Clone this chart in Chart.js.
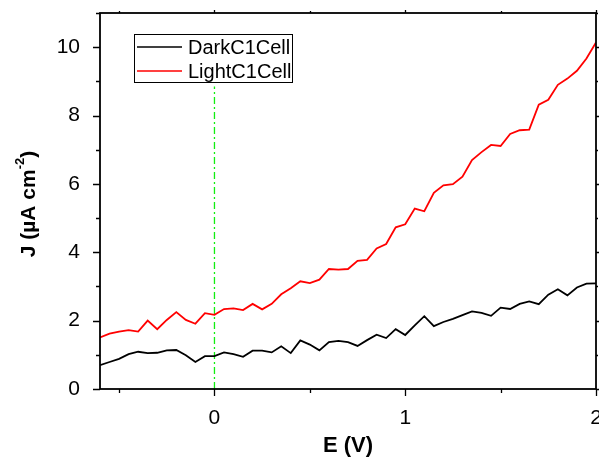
<!DOCTYPE html>
<html>
<head>
<meta charset="utf-8">
<script src="https://cdn.jsdelivr.net/npm/chart.js@4"></script>
<style>
  html, body { margin: 0; padding: 0; background: #fff; }
  #wrap { width: 599px; height: 459px; }
</style>
</head>
<body>
<div id="wrap"><canvas id="jvChart" width="599" height="459"></canvas></div>
<script>
const voltage = [-0.60, -0.55, -0.50, -0.45, -0.40, -0.35, -0.30, -0.25, -0.20, -0.15, -0.10, -0.05,
  0.00, 0.05, 0.10, 0.15, 0.20, 0.25, 0.30, 0.35, 0.40, 0.45, 0.50, 0.55, 0.60, 0.65, 0.70,
  0.75, 0.80, 0.85, 0.90, 0.95, 1.00, 1.05, 1.10, 1.15, 1.20, 1.25, 1.30, 1.35, 1.40, 1.45,
  1.50, 1.55, 1.60, 1.65, 1.70, 1.75, 1.80, 1.85, 1.90, 1.95, 2.00];

const darkCurrent = [0.70, 0.79, 0.88, 1.02, 1.09, 1.05, 1.06, 1.13, 1.14, 0.99, 0.79, 0.96,
  0.96, 1.07, 1.02, 0.94, 1.12, 1.12, 1.07, 1.25, 1.05, 1.42, 1.30, 1.13, 1.37, 1.41, 1.37,
  1.26, 1.43, 1.59, 1.49, 1.75, 1.58, 1.86, 2.13, 1.84, 1.96, 2.05, 2.16, 2.27, 2.23, 2.14,
  2.38, 2.34, 2.49, 2.56, 2.48, 2.76, 2.92, 2.74, 2.97, 3.08, 3.09];

const lightCurrent = [1.51, 1.62, 1.68, 1.72, 1.68, 2.00, 1.75, 2.02, 2.25, 2.02, 1.91, 2.22,
  2.17, 2.34, 2.36, 2.31, 2.49, 2.33, 2.49, 2.77, 2.95, 3.15, 3.10, 3.20, 3.51, 3.49, 3.51,
  3.75, 3.78, 4.11, 4.24, 4.73, 4.82, 5.28, 5.20, 5.74, 5.96, 5.99, 6.21, 6.70, 6.93, 7.14,
  7.11, 7.46, 7.57, 7.59, 8.32, 8.46, 8.90, 9.08, 9.31, 9.67, 10.14];

const markerLine = [{ x: 0, y: 0 }, { x: 0, y: 8.85 }];

const xMajor = [0, 1, 2];
const xMinor = [-0.5, 0.5, 1.5];
const yMajor = [0, 2, 4, 6, 8, 10];
const yMinor = [1, 3, 5, 7, 9, 11];

const FONT = "'Liberation Sans', Arial, sans-serif";

function toPoints(ys) {
  return voltage.map((v, i) => ({ x: v, y: ys[i] }));
}

// frame, tick marks, legend box and y title
const framePlugin = {
  id: "frame",
  afterDraw(chart) {
    const c = chart.ctx;
    const a = chart.chartArea;
    const xs = chart.scales.x;
    const ys = chart.scales.y;
    c.save();
    c.strokeStyle = "#000";
    c.lineWidth = 1.8;
    c.strokeRect(a.left, a.top, a.right - a.left, a.bottom - a.top);

    c.beginPath();
    xMajor.forEach(v => {
      const px = Math.round(xs.getPixelForValue(v)) + 0.5;
      c.moveTo(px, a.bottom); c.lineTo(px, a.bottom + 7);
      c.moveTo(px, a.top); c.lineTo(px, a.top - 3);
    });
    xMinor.forEach(v => {
      const px = Math.round(xs.getPixelForValue(v)) + 0.5;
      c.moveTo(px, a.bottom); c.lineTo(px, a.bottom + 4);
      c.moveTo(px, a.top); c.lineTo(px, a.top - 2);
    });
    yMajor.forEach(v => {
      const py = Math.round(ys.getPixelForValue(v)) + 0.5;
      c.moveTo(a.left, py); c.lineTo(a.left - 7, py);
      c.moveTo(a.right, py); c.lineTo(a.right + 3, py);
    });
    yMinor.forEach(v => {
      const py = Math.round(ys.getPixelForValue(v)) + 0.5;
      c.moveTo(a.left, py); c.lineTo(a.left - 4, py);
      c.moveTo(a.right, py); c.lineTo(a.right + 2, py);
    });
    c.lineWidth = 1.3;
    c.stroke();

    // legend
    const bx = 134.5, by = 34.5, bw = 158, bh = 48;
    c.fillStyle = "#fff";
    c.fillRect(bx, by, bw, bh);
    c.lineWidth = 1;
    c.strokeStyle = "#000";
    c.strokeRect(bx, by, bw, bh);
    c.font = "20px " + FONT;
    c.textBaseline = "middle";
    c.textAlign = "left";
    const rows = [47, 71];
    chart.data.datasets.slice(0, 2).forEach((ds, i) => {
      c.beginPath();
      c.strokeStyle = ds.borderColor;
      c.lineWidth = 1.6;
      c.moveTo(137, rows[i]); c.lineTo(182, rows[i]);
      c.stroke();
      c.fillStyle = "#000";
      c.fillText(ds.label, 188, rows[i] + 1);
    });

    // y axis title with superscript
    c.translate(27, 204);
    c.rotate(-Math.PI / 2);
    const big = "bold 21px " + FONT;
    const small = "bold 13px " + FONT;
    const p1 = "J (\u00b5A cm", p2 = "-2", p3 = ")";
    c.font = big; const w1 = c.measureText(p1).width; const w3 = c.measureText(p3).width;
    c.font = small; const w2 = c.measureText(p2).width;
    let x0 = -(w1 + w2 + w3) / 2;
    c.fillStyle = "#000";
    c.textBaseline = "alphabetic";
    c.font = big; c.fillText(p1, x0, 8); x0 += w1;
    c.font = small; c.fillText(p2, x0, -3); x0 += w2;
    c.font = big; c.fillText(p3, x0, 8);
    c.restore();
  }
};

new Chart(document.getElementById("jvChart"), {
  type: "line",
  data: {
    datasets: [
      {
        label: "DarkC1Cell",
        data: toPoints(darkCurrent),
        borderColor: "#000000",
        borderWidth: 1.8,
        pointRadius: 0,
        tension: 0
      },
      {
        label: "LightC1Cell",
        data: toPoints(lightCurrent),
        borderColor: "#ff0000",
        borderWidth: 1.8,
        pointRadius: 0,
        tension: 0
      },
      {
        label: "zero",
        data: markerLine,
        borderColor: "#11ee11",
        borderWidth: 1.3,
        borderDash: [7, 3, 2, 3],
        pointRadius: 0
      }
    ]
  },
  options: {
    responsive: false,
    animation: false,
    layout: { padding: { top: 13, right: 3, left: 0, bottom: 0 } },
    plugins: {
      legend: { display: false },
      tooltip: { enabled: false }
    },
    scales: {
      x: {
        type: "linear",
        min: -0.6,
        max: 2,
        afterFit(s) { s.height = 70; s.paddingLeft = 0; s.paddingRight = 0; },
        afterBuildTicks(s) { s.ticks = xMajor.map(v => ({ value: v })); },
        grid: { display: false },
        border: { display: false },
        ticks: { color: "#000", font: { family: FONT, size: 21 }, padding: 9, maxRotation: 0 },
        title: {
          display: true,
          text: "E (V)",
          color: "#000",
          font: { family: FONT, size: 22, weight: "bold" },
          padding: { top: 0, bottom: 0 }
        }
      },
      y: {
        min: 0,
        max: 11,
        afterFit(s) { s.width = 100; s.paddingTop = 0; s.paddingBottom = 0; },
        afterBuildTicks(s) { s.ticks = yMajor.map(v => ({ value: v })); },
        grid: { display: false },
        border: { display: false },
        ticks: { color: "#000", font: { family: FONT, size: 21 }, padding: 12 }
      }
    }
  },
  plugins: [framePlugin]
});
</script>
</body>
</html>
